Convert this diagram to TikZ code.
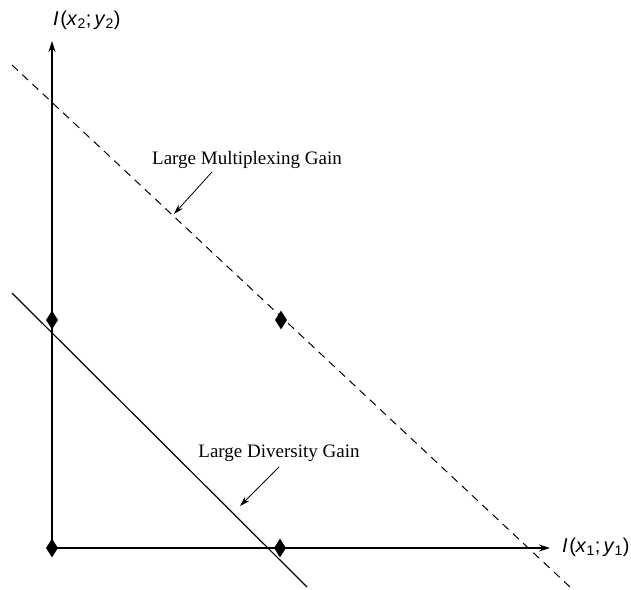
\documentclass[tikz,border=0pt]{standalone}
\usepackage{fontspec}
\setmainfont{Liberation Serif}
\newfontfamily\axisfont{Liberation Sans}
\usepackage{tikz}
\usetikzlibrary{
  arrows.meta,
  positioning,
  shapes.geometric
}

\tikzset{
  axis/.style={-{Stealth[length=11pt,width=7pt]}, line width=1.2pt},
  bound/.style={line width=1.2pt},
  marker/.style={diamond, fill=black, inner sep=0pt, minimum width=12pt, minimum height=19pt},
  gainlabel/.style={font=\fontsize{19}{22}\selectfont, inner sep=2pt},
  pointer/.style={-{Stealth[length=10pt,width=6pt]}, line width=0.8pt},
  axislabel/.style={font=\axisfont\fontsize{20}{24}\selectfont, inner sep=2pt}
}

\begin{document}
\begin{tikzpicture}[x=1pt,y=-1pt]
  \useasboundingbox (0,0) rectangle (631,589);

  % axes
  \coordinate (origin) at (52,548);
  \coordinate (ytop) at (52,41);
  \coordinate (xend) at (550,548);
  \draw[axis] (origin) -- (ytop);
  \draw[axis] (origin) -- (xend);
  \node[axislabel, anchor=west] (ylab) at (51,20)
    {\textit{I}\kern1.5pt(\textit{x}\textsubscript{2};\,\textit{y}\textsubscript{2})};
  \node[axislabel, anchor=west] (xlab) at (560,547)
    {\textit{I}\kern1.5pt(\textit{x}\textsubscript{1};\,\textit{y}\textsubscript{1})};

  % bounds
  \coordinate (div1) at (12,293);
  \coordinate (div2) at (307,587);
  \coordinate (mux1) at (12,65);
  \coordinate (mux2) at (570,587);
  \draw[bound] (div1) -- (div2);
  \draw[line width=1pt, dash pattern=on 8pt off 6pt] (mux1) -- (mux2);

  % corner points
  \node[marker] (pa) at (52,320) {};
  \node[marker] (pb) at (52,548) {};
  \node[marker] (pc) at (280,548) {};
  \node[marker] (pd) at (281,320) {};

  % labels
  \node[gainlabel] (muxlab) at (247,160) {Large Multiplexing Gain};
  \node[gainlabel] (divlab) at (279,453) {Large Diversity Gain};
  \coordinate (muxtail) at (212,172);
  \coordinate (muxtip) at (174,214);
  \coordinate (divtail) at (279,467);
  \coordinate (divtip) at (240,506);
  \draw[pointer] (muxtail) -- (muxtip);
  \draw[pointer] (divtail) -- (divtip);
\end{tikzpicture}
\end{document}
